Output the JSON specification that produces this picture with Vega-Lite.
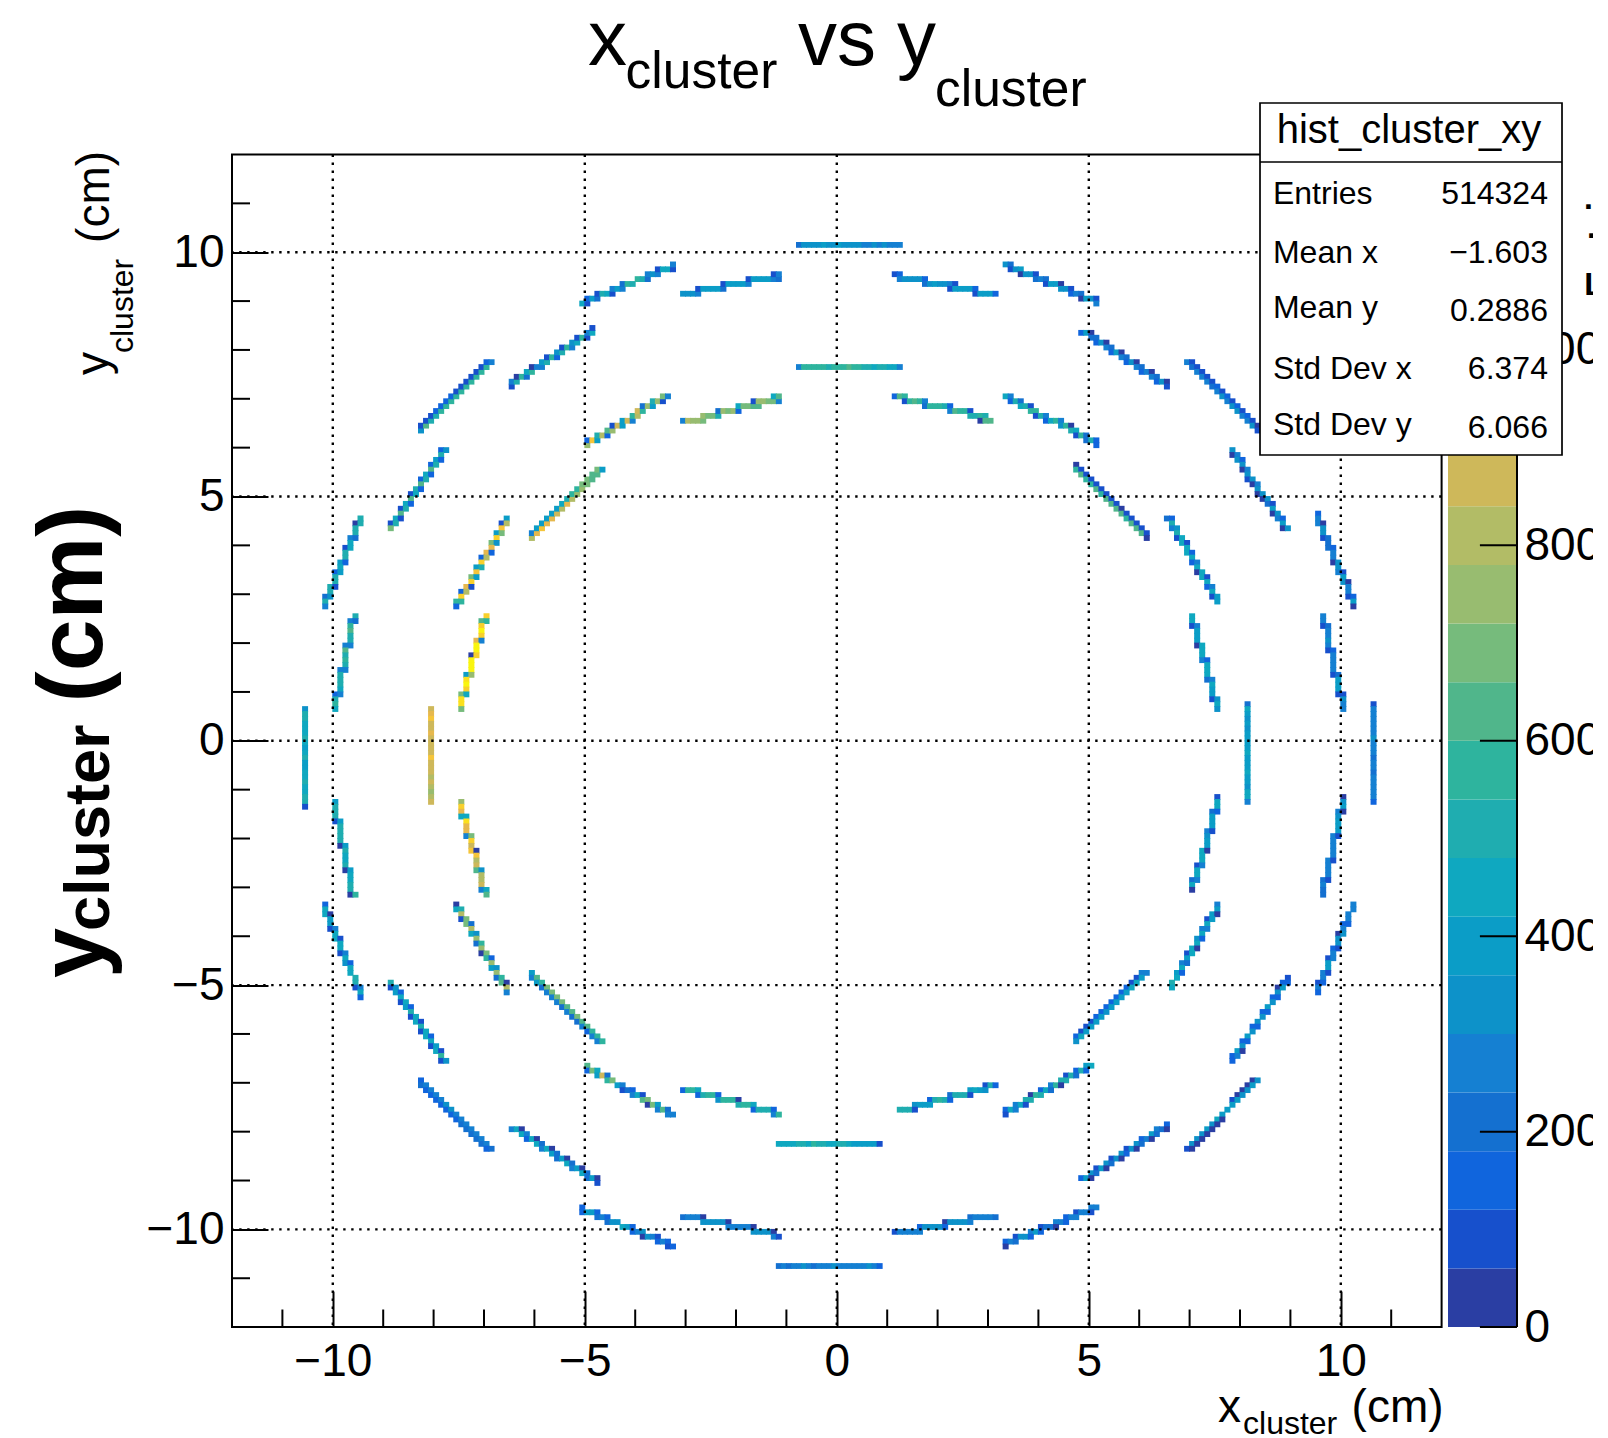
{"$schema":"https://vega.github.io/schema/vega-lite/v6.json","width":1209.6,"height":1172.6,"autosize":"none","padding":{"left":232,"top":154.5,"right":166.4,"bottom":110.9},"background":"white","view":{"stroke":"#000","strokeWidth":2},"config":{"font":"Liberation Sans"},"resolve":{"scale":{"y":"independent"},"axis":{"y":"independent"}},"layer":[
{"layer":[
{"data":{"values":[{"lo":0,"hi":60,"v":30},{"lo":60,"hi":120,"v":90},{"lo":120,"hi":180,"v":150},{"lo":180,"hi":240,"v":210},{"lo":240,"hi":300,"v":270},{"lo":300,"hi":360,"v":330},{"lo":360,"hi":420,"v":390},{"lo":420,"hi":480,"v":450},{"lo":480,"hi":540,"v":510},{"lo":540,"hi":600,"v":570},{"lo":600,"hi":660,"v":630},{"lo":660,"hi":720,"v":690},{"lo":720,"hi":780,"v":750},{"lo":780,"hi":840,"v":810},{"lo":840,"hi":900,"v":870},{"lo":900,"hi":960,"v":930},{"lo":960,"hi":1020,"v":990},{"lo":1020,"hi":1080,"v":1050},{"lo":1080,"hi":1140,"v":1110},{"lo":1140,"hi":1200,"v":1170}]},"mark":{"type":"rect"},"encoding":{"x":{"datum":12.127,"type":"quantitative","scale":{"domain":[-12,12],"nice":false,"zero":false},"axis":{"values":[-10,-5,0,5,10],"format":"d","title":null,"grid":false,"domain":false,"tickSize":-36,"tickWidth":2,"tickColor":"#000","labelFontSize":46,"labelPadding":48,"labelColor":"#000","labelFont":"Liberation Sans","labelFlush":false,"labelOverlap":false}},"x2":{"datum":13.496},"y":{"field":"lo","type":"quantitative","scale":{"domain":[0,1200],"nice":false,"zero":false},"axis":{"orient":"right","offset":75.4,"values":[0,200,400,600,800,1000],"format":"d","ticks":false,"domain":false,"grid":false,"title":null,"labelFontSize":46,"labelPadding":7,"labelColor":"#000","labelFont":"Liberation Sans","labelFlush":false,"labelBound":false,"labelOverlap":false}},"y2":{"field":"hi"},"color":{"field":"v","type":"quantitative","legend":null,"scale":{"type":"quantize","domain":[0,1200],"range":["#2a3ea3","#1750cc","#1065dd","#1470d0","#1580d2","#0d92c9","#0b9dc7","#0fa8c0","#1fadb0","#2eb49e","#50b68b","#76bb7c","#98bc70","#b2bc66","#ceb85a","#e6b84d","#f5c53a","#f8d02c","#fbe01d","#f9f50f"]}}}},
{"data":{"values":[{"t":0},{"t":200},{"t":400},{"t":600},{"t":800},{"t":1000}]},"mark":{"type":"rule","color":"#000","strokeWidth":2},"encoding":{"x":{"datum":12.76,"type":"quantitative"},"x2":{"datum":13.496},"y":{"field":"t","type":"quantitative"}}},
{"data":{"values":[{}]},"mark":{"type":"rule","color":"#000","strokeWidth":2},"encoding":{"x":{"datum":13.496,"type":"quantitative"},"y":{"datum":0},"y2":{"datum":1200}}}
]},
{"layer":[
{"data":{"values":[
{"x":-10.6,"y":0.6,"v":330},{"x":-10.6,"y":0.5,"v":510},{"x":-10.6,"y":0.4,"v":510},{"x":-10.6,"y":0.3,"v":450},{"x":-10.6,"y":0.2,"v":450},{"x":-10.6,"y":0.1,"v":450},{"x":-10.6,"y":0,"v":510},{"x":-10.6,"y":-0.1,"v":450},{"x":-10.6,"y":-0.2,"v":390},{"x":-10.6,"y":-0.3,"v":450},{"x":-10.6,"y":-0.4,"v":510},{"x":-10.6,"y":-0.5,"v":390},{"x":-10.6,"y":-0.6,"v":390},{"x":-10.6,"y":-0.7,"v":450},{"x":-10.6,"y":-0.8,"v":450},{"x":-10.6,"y":-0.9,"v":510},{"x":-10.6,"y":-1,"v":450},{"x":-10.6,"y":-1.1,"v":450},{"x":-10.6,"y":-1.2,"v":510},{"x":-10.6,"y":-1.3,"v":510},{"x":-10.6,"y":-1.4,"v":90},
{"x":-8.1,"y":0.6,"v":870},{"x":-8.1,"y":0.5,"v":930},{"x":-8.1,"y":0.4,"v":990},{"x":-8.1,"y":0.3,"v":870},{"x":-8.1,"y":0.2,"v":870},{"x":-8.1,"y":0.1,"v":930},{"x":-8.1,"y":0,"v":870},{"x":-8.1,"y":-0.1,"v":870},{"x":-8.1,"y":-0.2,"v":870},{"x":-8.1,"y":-0.3,"v":870},{"x":-8.1,"y":-0.4,"v":990},{"x":-8.1,"y":-0.5,"v":870},{"x":-8.1,"y":-0.6,"v":870},{"x":-8.1,"y":-0.7,"v":870},{"x":-8.1,"y":-0.8,"v":810},{"x":-8.1,"y":-0.9,"v":870},{"x":-8.1,"y":-1,"v":810},{"x":-8.1,"y":-1.1,"v":750},{"x":-8.1,"y":-1.2,"v":810},{"x":-8.1,"y":-1.3,"v":870},
{"x":10.6,"y":0.7,"v":90},{"x":10.6,"y":0.6,"v":270},{"x":10.6,"y":0.5,"v":270},{"x":10.6,"y":0.4,"v":270},{"x":10.6,"y":0.3,"v":270},{"x":10.6,"y":0.2,"v":270},{"x":10.6,"y":0.1,"v":270},{"x":10.6,"y":0,"v":330},{"x":10.6,"y":-0.1,"v":270},{"x":10.6,"y":-0.2,"v":270},{"x":10.6,"y":-0.3,"v":270},{"x":10.6,"y":-0.4,"v":210},{"x":10.6,"y":-0.5,"v":270},{"x":10.6,"y":-0.6,"v":270},{"x":10.6,"y":-0.7,"v":210},{"x":10.6,"y":-0.8,"v":270},{"x":10.6,"y":-0.9,"v":270},{"x":10.6,"y":-1,"v":270},{"x":10.6,"y":-1.1,"v":270},{"x":10.6,"y":-1.2,"v":270},{"x":10.6,"y":-1.3,"v":150},
{"x":8.1,"y":0.7,"v":210},{"x":8.1,"y":0.6,"v":450},{"x":8.1,"y":0.5,"v":390},{"x":8.1,"y":0.4,"v":330},{"x":8.1,"y":0.3,"v":390},{"x":8.1,"y":0.2,"v":330},{"x":8.1,"y":0.1,"v":390},{"x":8.1,"y":0,"v":390},{"x":8.1,"y":-0.1,"v":390},{"x":8.1,"y":-0.2,"v":390},{"x":8.1,"y":-0.3,"v":450},{"x":8.1,"y":-0.4,"v":390},{"x":8.1,"y":-0.5,"v":390},{"x":8.1,"y":-0.6,"v":390},{"x":8.1,"y":-0.7,"v":450},{"x":8.1,"y":-0.8,"v":390},{"x":8.1,"y":-0.9,"v":390},{"x":8.1,"y":-1,"v":330},{"x":8.1,"y":-1.1,"v":450},{"x":8.1,"y":-1.2,"v":450},{"x":8.1,"y":-1.3,"v":270},
{"x":-0.8,"y":10.1,"v":210},{"x":-0.7,"y":10.1,"v":330},{"x":-0.6,"y":10.1,"v":330},{"x":-0.5,"y":10.1,"v":330},{"x":-0.4,"y":10.1,"v":330},{"x":-0.3,"y":10.1,"v":390},{"x":-0.2,"y":10.1,"v":330},{"x":-0.1,"y":10.1,"v":330},{"x":0,"y":10.1,"v":390},{"x":0.1,"y":10.1,"v":330},{"x":0.2,"y":10.1,"v":330},{"x":0.3,"y":10.1,"v":330},{"x":0.4,"y":10.1,"v":330},{"x":0.5,"y":10.1,"v":270},{"x":0.6,"y":10.1,"v":270},{"x":0.7,"y":10.1,"v":330},{"x":0.8,"y":10.1,"v":270},{"x":0.9,"y":10.1,"v":330},{"x":1,"y":10.1,"v":270},{"x":1.1,"y":10.1,"v":270},{"x":1.2,"y":10.1,"v":270},
{"x":-0.8,"y":7.6,"v":270},{"x":-0.7,"y":7.6,"v":570},{"x":-0.6,"y":7.6,"v":570},{"x":-0.5,"y":7.6,"v":570},{"x":-0.4,"y":7.6,"v":570},{"x":-0.3,"y":7.6,"v":570},{"x":-0.2,"y":7.6,"v":510},{"x":-0.1,"y":7.6,"v":570},{"x":0,"y":7.6,"v":570},{"x":0.1,"y":7.6,"v":570},{"x":0.2,"y":7.6,"v":630},{"x":0.3,"y":7.6,"v":570},{"x":0.4,"y":7.6,"v":570},{"x":0.5,"y":7.6,"v":510},{"x":0.6,"y":7.6,"v":510},{"x":0.7,"y":7.6,"v":450},{"x":0.8,"y":7.6,"v":510},{"x":0.9,"y":7.6,"v":510},{"x":1,"y":7.6,"v":450},{"x":1.1,"y":7.6,"v":450},{"x":1.2,"y":7.6,"v":270},
{"x":-1.2,"y":-8.3,"v":450},{"x":-1.1,"y":-8.3,"v":450},{"x":-1,"y":-8.3,"v":450},{"x":-0.9,"y":-8.3,"v":450},{"x":-0.8,"y":-8.3,"v":510},{"x":-0.7,"y":-8.3,"v":510},{"x":-0.6,"y":-8.3,"v":450},{"x":-0.5,"y":-8.3,"v":570},{"x":-0.4,"y":-8.3,"v":510},{"x":-0.3,"y":-8.3,"v":510},{"x":-0.2,"y":-8.3,"v":450},{"x":-0.1,"y":-8.3,"v":450},{"x":0,"y":-8.3,"v":510},{"x":0.1,"y":-8.3,"v":510},{"x":0.2,"y":-8.3,"v":450},{"x":0.3,"y":-8.3,"v":390},{"x":0.4,"y":-8.3,"v":390},{"x":0.5,"y":-8.3,"v":390},{"x":0.6,"y":-8.3,"v":390},{"x":0.7,"y":-8.3,"v":390},{"x":0.8,"y":-8.3,"v":90},
{"x":-1.2,"y":-10.8,"v":210},{"x":-1.1,"y":-10.8,"v":270},{"x":-1,"y":-10.8,"v":210},{"x":-0.9,"y":-10.8,"v":270},{"x":-0.8,"y":-10.8,"v":270},{"x":-0.7,"y":-10.8,"v":330},{"x":-0.6,"y":-10.8,"v":270},{"x":-0.5,"y":-10.8,"v":210},{"x":-0.4,"y":-10.8,"v":270},{"x":-0.3,"y":-10.8,"v":270},{"x":-0.2,"y":-10.8,"v":270},{"x":-0.1,"y":-10.8,"v":330},{"x":0,"y":-10.8,"v":270},{"x":0.1,"y":-10.8,"v":270},{"x":0.2,"y":-10.8,"v":270},{"x":0.3,"y":-10.8,"v":270},{"x":0.4,"y":-10.8,"v":270},{"x":0.5,"y":-10.8,"v":270},{"x":0.6,"y":-10.8,"v":330},{"x":0.7,"y":-10.8,"v":270},{"x":0.8,"y":-10.8,"v":150},
{"x":1.1,"y":9.5,"v":90},{"x":1.2,"y":9.5,"v":150},{"x":1.2,"y":9.4,"v":270},{"x":1.3,"y":9.4,"v":330},{"x":1.4,"y":9.4,"v":330},{"x":1.5,"y":9.4,"v":330},{"x":1.6,"y":9.4,"v":330},{"x":1.7,"y":9.4,"v":150},{"x":1.7,"y":9.3,"v":210},{"x":1.8,"y":9.3,"v":330},{"x":1.9,"y":9.3,"v":390},{"x":2,"y":9.3,"v":330},{"x":2.1,"y":9.3,"v":330},{"x":2.2,"y":9.3,"v":270},{"x":2.3,"y":9.3,"v":90},{"x":2.2,"y":9.2,"v":90},{"x":2.3,"y":9.2,"v":390},{"x":2.4,"y":9.2,"v":390},{"x":2.5,"y":9.2,"v":390},{"x":2.6,"y":9.2,"v":390},{"x":2.7,"y":9.2,"v":150},{"x":2.7,"y":9.1,"v":90},{"x":2.8,"y":9.1,"v":390},{"x":2.9,"y":9.1,"v":390},{"x":3,"y":9.1,"v":390},{"x":3.1,"y":9.1,"v":150},
{"x":-3.1,"y":9.1,"v":330},{"x":-3,"y":9.1,"v":330},{"x":-2.9,"y":9.1,"v":330},{"x":-2.8,"y":9.1,"v":270},{"x":-2.8,"y":9.2,"v":90},{"x":-2.7,"y":9.2,"v":390},{"x":-2.6,"y":9.2,"v":390},{"x":-2.5,"y":9.2,"v":390},{"x":-2.4,"y":9.2,"v":390},{"x":-2.3,"y":9.2,"v":210},{"x":-2.3,"y":9.3,"v":90},{"x":-2.2,"y":9.3,"v":390},{"x":-2.1,"y":9.3,"v":390},{"x":-2,"y":9.3,"v":390},{"x":-1.9,"y":9.3,"v":390},{"x":-1.8,"y":9.3,"v":270},{"x":-1.8,"y":9.4,"v":90},{"x":-1.7,"y":9.4,"v":390},{"x":-1.6,"y":9.4,"v":390},{"x":-1.5,"y":9.4,"v":390},{"x":-1.4,"y":9.4,"v":390},{"x":-1.3,"y":9.4,"v":270},{"x":-1.2,"y":9.4,"v":210},{"x":-1.3,"y":9.5,"v":90},{"x":-1.2,"y":9.5,"v":270},
{"x":-3.1,"y":6.5,"v":270},{"x":-3,"y":6.5,"v":810},{"x":-2.9,"y":6.5,"v":750},{"x":-2.8,"y":6.5,"v":750},{"x":-2.7,"y":6.5,"v":690},{"x":-2.7,"y":6.6,"v":750},{"x":-2.6,"y":6.6,"v":690},{"x":-2.5,"y":6.6,"v":690},{"x":-2.4,"y":6.6,"v":510},{"x":-2.4,"y":6.7,"v":210},{"x":-2.3,"y":6.7,"v":750},{"x":-2.2,"y":6.7,"v":690},{"x":-2.1,"y":6.7,"v":750},{"x":-2,"y":6.7,"v":150},{"x":-2,"y":6.8,"v":450},{"x":-1.9,"y":6.8,"v":690},{"x":-1.8,"y":6.8,"v":690},{"x":-1.7,"y":6.8,"v":630},{"x":-1.6,"y":6.8,"v":630},{"x":-1.7,"y":6.9,"v":90},{"x":-1.6,"y":6.9,"v":750},{"x":-1.5,"y":6.9,"v":750},{"x":-1.4,"y":6.9,"v":690},{"x":-1.3,"y":6.9,"v":690},{"x":-1.2,"y":6.9,"v":270},{"x":-1.3,"y":7,"v":450},{"x":-1.2,"y":7,"v":630},
{"x":1.1,"y":7,"v":150},{"x":1.2,"y":7,"v":630},{"x":1.3,"y":7,"v":570},{"x":1.3,"y":6.9,"v":90},{"x":1.4,"y":6.9,"v":570},{"x":1.5,"y":6.9,"v":630},{"x":1.6,"y":6.9,"v":570},{"x":1.7,"y":6.9,"v":270},{"x":1.7,"y":6.8,"v":210},{"x":1.8,"y":6.8,"v":570},{"x":1.9,"y":6.8,"v":570},{"x":2,"y":6.8,"v":570},{"x":2.1,"y":6.8,"v":510},{"x":2.2,"y":6.8,"v":150},{"x":2.2,"y":6.7,"v":270},{"x":2.3,"y":6.7,"v":630},{"x":2.4,"y":6.7,"v":570},{"x":2.5,"y":6.7,"v":570},{"x":2.6,"y":6.7,"v":90},{"x":2.6,"y":6.6,"v":510},{"x":2.7,"y":6.6,"v":510},{"x":2.8,"y":6.6,"v":570},{"x":2.9,"y":6.6,"v":510},{"x":2.8,"y":6.5,"v":30},{"x":2.9,"y":6.5,"v":630},{"x":3,"y":6.5,"v":630},
{"x":-5.1,"y":8.9,"v":450},{"x":-5,"y":8.9,"v":90},{"x":-5,"y":9,"v":150},{"x":-4.9,"y":9,"v":390},{"x":-4.8,"y":9,"v":210},{"x":-4.8,"y":9.1,"v":90},{"x":-4.7,"y":9.1,"v":510},{"x":-4.6,"y":9.1,"v":450},{"x":-4.5,"y":9.1,"v":90},{"x":-4.5,"y":9.2,"v":270},{"x":-4.4,"y":9.2,"v":390},{"x":-4.3,"y":9.2,"v":270},{"x":-4.3,"y":9.3,"v":210},{"x":-4.2,"y":9.3,"v":570},{"x":-4.1,"y":9.3,"v":510},{"x":-4,"y":9.4,"v":570},{"x":-3.9,"y":9.4,"v":510},{"x":-3.8,"y":9.4,"v":210},{"x":-3.8,"y":9.5,"v":270},{"x":-3.7,"y":9.5,"v":330},{"x":-3.6,"y":9.5,"v":270},{"x":-3.6,"y":9.6,"v":90},{"x":-3.5,"y":9.6,"v":450},{"x":-3.4,"y":9.6,"v":450},{"x":-3.3,"y":9.6,"v":90},{"x":-3.3,"y":9.7,"v":270},
{"x":3.3,"y":9.7,"v":330},{"x":3.4,"y":9.7,"v":210},{"x":3.4,"y":9.6,"v":90},{"x":3.5,"y":9.6,"v":330},{"x":3.6,"y":9.6,"v":390},{"x":3.6,"y":9.5,"v":30},{"x":3.7,"y":9.5,"v":330},{"x":3.8,"y":9.5,"v":330},{"x":3.9,"y":9.5,"v":90},{"x":3.9,"y":9.4,"v":210},{"x":4,"y":9.4,"v":270},{"x":4.1,"y":9.4,"v":210},{"x":4.1,"y":9.3,"v":90},{"x":4.2,"y":9.3,"v":390},{"x":4.3,"y":9.3,"v":390},{"x":4.4,"y":9.3,"v":30},{"x":4.4,"y":9.2,"v":330},{"x":4.5,"y":9.2,"v":330},{"x":4.6,"y":9.2,"v":90},{"x":4.6,"y":9.1,"v":150},{"x":4.7,"y":9.1,"v":270},{"x":4.8,"y":9.1,"v":210},{"x":4.8,"y":9,"v":30},{"x":4.9,"y":9,"v":390},{"x":5,"y":9,"v":330},{"x":5.1,"y":9,"v":90},{"x":5.1,"y":8.9,"v":270},
{"x":4.8,"y":8.3,"v":150},{"x":4.9,"y":8.3,"v":390},{"x":5,"y":8.3,"v":30},{"x":5,"y":8.2,"v":210},{"x":5.1,"y":8.2,"v":210},{"x":5.1,"y":8.1,"v":150},{"x":5.2,"y":8.1,"v":330},{"x":5.3,"y":8.1,"v":30},{"x":5.3,"y":8,"v":270},{"x":5.4,"y":8,"v":210},{"x":5.4,"y":7.9,"v":150},{"x":5.5,"y":7.9,"v":390},{"x":5.6,"y":7.9,"v":30},{"x":5.6,"y":7.8,"v":270},{"x":5.7,"y":7.8,"v":210},{"x":5.7,"y":7.7,"v":150},{"x":5.8,"y":7.7,"v":330},{"x":5.9,"y":7.7,"v":30},{"x":5.9,"y":7.6,"v":270},{"x":6,"y":7.6,"v":210},{"x":6,"y":7.5,"v":150},{"x":6.1,"y":7.5,"v":270},{"x":6.2,"y":7.5,"v":30},{"x":6.2,"y":7.4,"v":270},{"x":6.3,"y":7.4,"v":210},{"x":6.3,"y":7.3,"v":150},{"x":6.4,"y":7.3,"v":330},{"x":6.5,"y":7.3,"v":30},{"x":6.5,"y":7.2,"v":90},
{"x":6.9,"y":7.7,"v":270},{"x":7,"y":7.7,"v":90},{"x":7,"y":7.6,"v":210},{"x":7.1,"y":7.6,"v":90},{"x":7.1,"y":7.5,"v":270},{"x":7.2,"y":7.5,"v":90},{"x":7.2,"y":7.4,"v":270},{"x":7.3,"y":7.4,"v":90},{"x":7.3,"y":7.3,"v":270},{"x":7.4,"y":7.3,"v":90},{"x":7.4,"y":7.2,"v":210},{"x":7.5,"y":7.2,"v":150},{"x":7.5,"y":7.1,"v":270},{"x":7.6,"y":7.1,"v":90},{"x":7.6,"y":7,"v":330},{"x":7.7,"y":7,"v":150},{"x":7.7,"y":6.9,"v":270},{"x":7.8,"y":6.9,"v":90},{"x":7.8,"y":6.8,"v":330},{"x":7.9,"y":6.8,"v":150},{"x":7.9,"y":6.7,"v":330},{"x":8,"y":6.7,"v":90},{"x":8,"y":6.6,"v":270},{"x":8.1,"y":6.6,"v":150},{"x":8.1,"y":6.5,"v":270},{"x":8.2,"y":6.5,"v":90},{"x":8.2,"y":6.4,"v":330},{"x":8.3,"y":6.4,"v":30},{"x":8.3,"y":6.3,"v":90},
{"x":7.8,"y":5.9,"v":330},{"x":7.8,"y":5.8,"v":30},{"x":7.9,"y":5.8,"v":270},{"x":7.9,"y":5.7,"v":330},{"x":8,"y":5.7,"v":150},{"x":8,"y":5.6,"v":330},{"x":8,"y":5.5,"v":30},{"x":8.1,"y":5.5,"v":270},{"x":8.1,"y":5.4,"v":330},{"x":8.1,"y":5.3,"v":90},{"x":8.2,"y":5.3,"v":330},{"x":8.2,"y":5.2,"v":30},{"x":8.3,"y":5.2,"v":270},{"x":8.3,"y":5.1,"v":330},{"x":8.3,"y":5,"v":30},{"x":8.4,"y":5,"v":330},{"x":8.4,"y":4.9,"v":30},{"x":8.5,"y":4.9,"v":330},{"x":8.5,"y":4.8,"v":210},{"x":8.6,"y":4.8,"v":90},{"x":8.6,"y":4.7,"v":390},{"x":8.6,"y":4.6,"v":30},{"x":8.7,"y":4.6,"v":330},{"x":8.7,"y":4.5,"v":270},{"x":8.8,"y":4.5,"v":150},{"x":8.8,"y":4.4,"v":390},{"x":8.8,"y":4.3,"v":30},{"x":8.9,"y":4.3,"v":330},
{"x":9.5,"y":4.6,"v":150},{"x":9.5,"y":4.5,"v":270},{"x":9.5,"y":4.4,"v":270},{"x":9.6,"y":4.4,"v":30},{"x":9.6,"y":4.3,"v":330},{"x":9.6,"y":4.2,"v":330},{"x":9.6,"y":4.1,"v":90},{"x":9.7,"y":4.1,"v":210},{"x":9.7,"y":4,"v":210},{"x":9.7,"y":3.9,"v":210},{"x":9.8,"y":3.9,"v":150},{"x":9.8,"y":3.8,"v":270},{"x":9.8,"y":3.7,"v":270},{"x":9.8,"y":3.6,"v":30},{"x":9.9,"y":3.6,"v":330},{"x":9.9,"y":3.5,"v":330},{"x":9.9,"y":3.4,"v":270},{"x":10,"y":3.4,"v":90},{"x":10,"y":3.3,"v":390},{"x":10,"y":3.2,"v":330},{"x":10.1,"y":3.2,"v":30},{"x":10.1,"y":3.1,"v":270},{"x":10.1,"y":3,"v":270},{"x":10.1,"y":2.9,"v":90},{"x":10.2,"y":2.9,"v":150},{"x":10.2,"y":2.8,"v":390},{"x":10.2,"y":2.7,"v":30},
{"x":9.6,"y":2.5,"v":270},{"x":9.6,"y":2.4,"v":270},{"x":9.6,"y":2.3,"v":90},{"x":9.7,"y":2.3,"v":210},{"x":9.7,"y":2.2,"v":270},{"x":9.7,"y":2.1,"v":270},{"x":9.7,"y":2,"v":330},{"x":9.7,"y":1.9,"v":270},{"x":9.7,"y":1.8,"v":90},{"x":9.8,"y":1.8,"v":150},{"x":9.8,"y":1.7,"v":270},{"x":9.8,"y":1.6,"v":270},{"x":9.8,"y":1.5,"v":270},{"x":9.8,"y":1.4,"v":270},{"x":9.8,"y":1.3,"v":90},{"x":9.9,"y":1.3,"v":210},{"x":9.9,"y":1.2,"v":390},{"x":9.9,"y":1.1,"v":390},{"x":9.9,"y":1,"v":390},{"x":9.9,"y":0.9,"v":90},{"x":10,"y":0.9,"v":90},{"x":10,"y":0.8,"v":330},{"x":10,"y":0.7,"v":270},{"x":10,"y":0.6,"v":270},
{"x":7,"y":2.5,"v":450},{"x":7,"y":2.4,"v":450},{"x":7,"y":2.3,"v":90},{"x":7.1,"y":2.3,"v":270},{"x":7.1,"y":2.2,"v":390},{"x":7.1,"y":2.1,"v":390},{"x":7.1,"y":2,"v":390},{"x":7.1,"y":1.9,"v":30},{"x":7.2,"y":1.9,"v":450},{"x":7.2,"y":1.8,"v":450},{"x":7.2,"y":1.7,"v":450},{"x":7.2,"y":1.6,"v":270},{"x":7.3,"y":1.6,"v":150},{"x":7.3,"y":1.5,"v":450},{"x":7.3,"y":1.4,"v":450},{"x":7.3,"y":1.3,"v":450},{"x":7.3,"y":1.2,"v":210},{"x":7.4,"y":1.2,"v":270},{"x":7.4,"y":1.1,"v":450},{"x":7.4,"y":1,"v":390},{"x":7.4,"y":0.9,"v":390},{"x":7.4,"y":0.8,"v":90},{"x":7.5,"y":0.8,"v":330},{"x":7.5,"y":0.7,"v":450},{"x":7.5,"y":0.6,"v":330},
{"x":6.5,"y":4.5,"v":210},{"x":6.6,"y":4.5,"v":150},{"x":6.6,"y":4.4,"v":510},{"x":6.6,"y":4.3,"v":270},{"x":6.7,"y":4.3,"v":330},{"x":6.7,"y":4.2,"v":510},{"x":6.7,"y":4.1,"v":90},{"x":6.8,"y":4.1,"v":450},{"x":6.8,"y":4,"v":450},{"x":6.9,"y":4,"v":90},{"x":6.9,"y":3.9,"v":450},{"x":6.9,"y":3.8,"v":450},{"x":7,"y":3.8,"v":150},{"x":7,"y":3.7,"v":450},{"x":7,"y":3.6,"v":150},{"x":7.1,"y":3.6,"v":270},{"x":7.1,"y":3.5,"v":450},{"x":7.1,"y":3.4,"v":30},{"x":7.2,"y":3.4,"v":450},{"x":7.2,"y":3.3,"v":450},{"x":7.3,"y":3.3,"v":90},{"x":7.3,"y":3.2,"v":450},{"x":7.3,"y":3.1,"v":150},{"x":7.4,"y":3.1,"v":270},{"x":7.4,"y":3,"v":450},{"x":7.4,"y":2.9,"v":90},{"x":7.5,"y":2.9,"v":390},{"x":7.5,"y":2.8,"v":390},
{"x":4.7,"y":5.6,"v":30},{"x":4.7,"y":5.5,"v":570},{"x":4.8,"y":5.5,"v":90},{"x":4.8,"y":5.4,"v":630},{"x":4.9,"y":5.4,"v":90},{"x":4.9,"y":5.3,"v":570},{"x":5,"y":5.3,"v":90},{"x":5,"y":5.2,"v":570},{"x":5.1,"y":5.2,"v":90},{"x":5.1,"y":5.1,"v":630},{"x":5.2,"y":5.1,"v":90},{"x":5.2,"y":5,"v":570},{"x":5.3,"y":5,"v":90},{"x":5.3,"y":4.9,"v":630},{"x":5.4,"y":4.9,"v":90},{"x":5.4,"y":4.8,"v":630},{"x":5.5,"y":4.8,"v":90},{"x":5.5,"y":4.7,"v":630},{"x":5.6,"y":4.7,"v":30},{"x":5.6,"y":4.6,"v":630},{"x":5.7,"y":4.6,"v":90},{"x":5.7,"y":4.5,"v":570},{"x":5.8,"y":4.5,"v":90},{"x":5.8,"y":4.4,"v":630},{"x":5.9,"y":4.4,"v":90},{"x":5.9,"y":4.3,"v":630},{"x":6,"y":4.3,"v":90},{"x":6,"y":4.2,"v":630},{"x":6.1,"y":4.2,"v":90},{"x":6.1,"y":4.1,"v":30},
{"x":3.3,"y":7,"v":450},{"x":3.4,"y":7,"v":270},{"x":3.4,"y":6.9,"v":150},{"x":3.5,"y":6.9,"v":510},{"x":3.6,"y":6.9,"v":210},{"x":3.6,"y":6.8,"v":450},{"x":3.7,"y":6.8,"v":510},{"x":3.8,"y":6.8,"v":90},{"x":3.8,"y":6.7,"v":570},{"x":3.9,"y":6.7,"v":570},{"x":3.9,"y":6.6,"v":90},{"x":4,"y":6.6,"v":510},{"x":4.1,"y":6.6,"v":270},{"x":4.1,"y":6.5,"v":150},{"x":4.2,"y":6.5,"v":450},{"x":4.3,"y":6.5,"v":570},{"x":4.4,"y":6.5,"v":270},{"x":4.4,"y":6.4,"v":330},{"x":4.5,"y":6.4,"v":570},{"x":4.6,"y":6.4,"v":30},{"x":4.6,"y":6.3,"v":510},{"x":4.7,"y":6.3,"v":450},{"x":4.7,"y":6.2,"v":90},{"x":4.8,"y":6.2,"v":570},{"x":4.9,"y":6.2,"v":210},{"x":4.9,"y":6.1,"v":210},{"x":5,"y":6.1,"v":510},{"x":5.1,"y":6.1,"v":150},{"x":5.1,"y":6,"v":150},
{"x":10,"y":-1.2,"v":30},{"x":10,"y":-1.3,"v":330},{"x":10,"y":-1.4,"v":390},{"x":9.9,"y":-1.5,"v":270},{"x":10,"y":-1.5,"v":30},{"x":9.9,"y":-1.6,"v":330},{"x":9.9,"y":-1.7,"v":390},{"x":9.9,"y":-1.8,"v":390},{"x":9.9,"y":-1.9,"v":390},{"x":9.8,"y":-2,"v":270},{"x":9.9,"y":-2,"v":90},{"x":9.8,"y":-2.1,"v":270},{"x":9.8,"y":-2.2,"v":270},{"x":9.8,"y":-2.3,"v":270},{"x":9.8,"y":-2.4,"v":270},{"x":9.7,"y":-2.5,"v":270},{"x":9.8,"y":-2.5,"v":90},{"x":9.7,"y":-2.6,"v":270},{"x":9.7,"y":-2.7,"v":270},{"x":9.7,"y":-2.8,"v":270},{"x":9.6,"y":-2.9,"v":210},{"x":9.7,"y":-2.9,"v":90},{"x":9.6,"y":-3,"v":270},{"x":9.6,"y":-3.1,"v":210},{"x":9.6,"y":-3.2,"v":210},
{"x":7.5,"y":-1.2,"v":90},{"x":7.5,"y":-1.3,"v":450},{"x":7.5,"y":-1.4,"v":450},{"x":7.4,"y":-1.5,"v":210},{"x":7.5,"y":-1.5,"v":150},{"x":7.4,"y":-1.6,"v":390},{"x":7.4,"y":-1.7,"v":390},{"x":7.4,"y":-1.8,"v":390},{"x":7.3,"y":-1.9,"v":270},{"x":7.4,"y":-1.9,"v":90},{"x":7.3,"y":-2,"v":330},{"x":7.3,"y":-2.1,"v":390},{"x":7.3,"y":-2.2,"v":390},{"x":7.2,"y":-2.3,"v":450},{"x":7.3,"y":-2.3,"v":30},{"x":7.2,"y":-2.4,"v":450},{"x":7.2,"y":-2.5,"v":450},{"x":7.1,"y":-2.6,"v":90},{"x":7.2,"y":-2.6,"v":270},{"x":7.1,"y":-2.7,"v":450},{"x":7.1,"y":-2.8,"v":450},{"x":7,"y":-2.9,"v":210},{"x":7.1,"y":-2.9,"v":270},{"x":7,"y":-3,"v":450},{"x":7,"y":-3.1,"v":30},
{"x":10.2,"y":-3.4,"v":270},{"x":10.2,"y":-3.5,"v":270},{"x":10.1,"y":-3.6,"v":270},{"x":10.1,"y":-3.7,"v":270},{"x":10,"y":-3.8,"v":150},{"x":10.1,"y":-3.8,"v":150},{"x":10,"y":-3.9,"v":270},{"x":9.9,"y":-4,"v":30},{"x":10,"y":-4,"v":330},{"x":9.9,"y":-4.1,"v":330},{"x":9.9,"y":-4.2,"v":330},{"x":9.8,"y":-4.3,"v":150},{"x":9.9,"y":-4.3,"v":90},{"x":9.8,"y":-4.4,"v":270},{"x":9.7,"y":-4.5,"v":90},{"x":9.8,"y":-4.5,"v":270},{"x":9.7,"y":-4.6,"v":390},{"x":9.7,"y":-4.7,"v":390},{"x":9.6,"y":-4.8,"v":270},{"x":9.7,"y":-4.8,"v":90},{"x":9.6,"y":-4.9,"v":270},{"x":9.5,"y":-5,"v":90},{"x":9.6,"y":-5,"v":150},{"x":9.5,"y":-5.1,"v":270},{"x":9.5,"y":-5.2,"v":150},
{"x":7.5,"y":-3.4,"v":270},{"x":7.5,"y":-3.5,"v":390},{"x":7.4,"y":-3.6,"v":390},{"x":7.5,"y":-3.6,"v":30},{"x":7.3,"y":-3.7,"v":90},{"x":7.4,"y":-3.7,"v":390},{"x":7.3,"y":-3.8,"v":450},{"x":7.2,"y":-3.9,"v":270},{"x":7.3,"y":-3.9,"v":270},{"x":7.2,"y":-4,"v":450},{"x":7.1,"y":-4.1,"v":330},{"x":7.2,"y":-4.1,"v":150},{"x":7.1,"y":-4.2,"v":450},{"x":7,"y":-4.3,"v":450},{"x":7.1,"y":-4.3,"v":30},{"x":6.9,"y":-4.4,"v":90},{"x":7,"y":-4.4,"v":450},{"x":6.9,"y":-4.5,"v":390},{"x":6.8,"y":-4.6,"v":270},{"x":6.9,"y":-4.6,"v":210},{"x":6.8,"y":-4.7,"v":450},{"x":6.7,"y":-4.8,"v":390},{"x":6.8,"y":-4.8,"v":150},{"x":6.7,"y":-4.9,"v":450},{"x":6.6,"y":-5,"v":510},{"x":6.6,"y":-5.1,"v":450},
{"x":8.9,"y":-4.9,"v":90},{"x":8.8,"y":-5,"v":150},{"x":8.9,"y":-5,"v":150},{"x":8.7,"y":-5.1,"v":30},{"x":8.8,"y":-5.1,"v":390},{"x":8.7,"y":-5.2,"v":330},{"x":8.6,"y":-5.3,"v":150},{"x":8.7,"y":-5.3,"v":150},{"x":8.6,"y":-5.4,"v":330},{"x":8.5,"y":-5.5,"v":390},{"x":8.4,"y":-5.6,"v":150},{"x":8.5,"y":-5.6,"v":150},{"x":8.4,"y":-5.7,"v":330},{"x":8.3,"y":-5.8,"v":330},{"x":8.2,"y":-5.9,"v":150},{"x":8.3,"y":-5.9,"v":150},{"x":8.2,"y":-6,"v":330},{"x":8.1,"y":-6.1,"v":390},{"x":8,"y":-6.2,"v":150},{"x":8.1,"y":-6.2,"v":150},{"x":8,"y":-6.3,"v":330},{"x":7.9,"y":-6.4,"v":390},{"x":8,"y":-6.4,"v":30},{"x":7.8,"y":-6.5,"v":150},{"x":7.9,"y":-6.5,"v":270},{"x":7.8,"y":-6.6,"v":150},
{"x":8.2,"y":-7,"v":30},{"x":8.3,"y":-7,"v":330},{"x":8.1,"y":-7.1,"v":30},{"x":8.2,"y":-7.1,"v":390},{"x":8,"y":-7.2,"v":30},{"x":8.1,"y":-7.2,"v":330},{"x":7.9,"y":-7.3,"v":30},{"x":8,"y":-7.3,"v":330},{"x":7.8,"y":-7.4,"v":90},{"x":7.9,"y":-7.4,"v":390},{"x":7.8,"y":-7.5,"v":390},{"x":7.7,"y":-7.6,"v":390},{"x":7.6,"y":-7.7,"v":390},{"x":7.5,"y":-7.8,"v":450},{"x":7.6,"y":-7.8,"v":30},{"x":7.4,"y":-7.9,"v":330},{"x":7.5,"y":-7.9,"v":30},{"x":7.3,"y":-8,"v":390},{"x":7.4,"y":-8,"v":30},{"x":7.2,"y":-8.1,"v":330},{"x":7.3,"y":-8.1,"v":30},{"x":7.1,"y":-8.2,"v":330},{"x":7.2,"y":-8.2,"v":30},{"x":7,"y":-8.3,"v":330},{"x":7.1,"y":-8.3,"v":30},{"x":6.9,"y":-8.4,"v":90},{"x":7,"y":-8.4,"v":30},
{"x":6.5,"y":-7.9,"v":150},{"x":6.3,"y":-8,"v":270},{"x":6.4,"y":-8,"v":210},{"x":6.5,"y":-8,"v":30},{"x":6.2,"y":-8.1,"v":390},{"x":6.3,"y":-8.1,"v":210},{"x":6,"y":-8.2,"v":150},{"x":6.1,"y":-8.2,"v":270},{"x":6.2,"y":-8.2,"v":30},{"x":5.9,"y":-8.3,"v":330},{"x":6,"y":-8.3,"v":210},{"x":5.7,"y":-8.4,"v":90},{"x":5.8,"y":-8.4,"v":330},{"x":5.9,"y":-8.4,"v":30},{"x":5.6,"y":-8.5,"v":330},{"x":5.7,"y":-8.5,"v":150},{"x":5.4,"y":-8.6,"v":90},{"x":5.5,"y":-8.6,"v":330},{"x":5.6,"y":-8.6,"v":30},{"x":5.3,"y":-8.7,"v":330},{"x":5.4,"y":-8.7,"v":210},{"x":5.1,"y":-8.8,"v":90},{"x":5.2,"y":-8.8,"v":390},{"x":5.3,"y":-8.8,"v":30},{"x":5,"y":-8.9,"v":330},{"x":5.1,"y":-8.9,"v":210},{"x":4.8,"y":-9,"v":150},{"x":4.9,"y":-9,"v":390},{"x":5,"y":-9,"v":30},
{"x":6,"y":-4.8,"v":270},{"x":6.1,"y":-4.8,"v":270},{"x":5.9,"y":-4.9,"v":90},{"x":6,"y":-4.9,"v":390},{"x":5.8,"y":-5,"v":90},{"x":5.9,"y":-5,"v":450},{"x":5.7,"y":-5.1,"v":150},{"x":5.8,"y":-5.1,"v":450},{"x":5.6,"y":-5.2,"v":150},{"x":5.7,"y":-5.2,"v":390},{"x":5.5,"y":-5.3,"v":150},{"x":5.6,"y":-5.3,"v":390},{"x":5.4,"y":-5.4,"v":150},{"x":5.5,"y":-5.4,"v":390},{"x":5.3,"y":-5.5,"v":150},{"x":5.4,"y":-5.5,"v":390},{"x":5.2,"y":-5.6,"v":150},{"x":5.3,"y":-5.6,"v":330},{"x":5.1,"y":-5.7,"v":150},{"x":5.2,"y":-5.7,"v":390},{"x":5,"y":-5.8,"v":90},{"x":5.1,"y":-5.8,"v":390},{"x":4.9,"y":-5.9,"v":90},{"x":5,"y":-5.9,"v":390},{"x":4.8,"y":-6,"v":90},{"x":4.9,"y":-6,"v":390},{"x":4.7,"y":-6.1,"v":150},{"x":4.8,"y":-6.1,"v":450},{"x":4.7,"y":-6.2,"v":330},
{"x":4.9,"y":-6.7,"v":390},{"x":5,"y":-6.7,"v":450},{"x":4.7,"y":-6.8,"v":150},{"x":4.8,"y":-6.8,"v":510},{"x":4.9,"y":-6.8,"v":150},{"x":4.5,"y":-6.9,"v":90},{"x":4.6,"y":-6.9,"v":510},{"x":4.7,"y":-6.9,"v":210},{"x":4.4,"y":-7,"v":510},{"x":4.5,"y":-7,"v":510},{"x":4.2,"y":-7.1,"v":270},{"x":4.3,"y":-7.1,"v":570},{"x":4.4,"y":-7.1,"v":30},{"x":4,"y":-7.2,"v":150},{"x":4.1,"y":-7.2,"v":450},{"x":4.2,"y":-7.2,"v":210},{"x":3.8,"y":-7.3,"v":30},{"x":3.9,"y":-7.3,"v":570},{"x":4,"y":-7.3,"v":510},{"x":3.7,"y":-7.4,"v":510},{"x":3.8,"y":-7.4,"v":510},{"x":3.5,"y":-7.5,"v":270},{"x":3.6,"y":-7.5,"v":450},{"x":3.7,"y":-7.5,"v":90},{"x":3.3,"y":-7.6,"v":150},{"x":3.4,"y":-7.6,"v":450},{"x":3.5,"y":-7.6,"v":270},{"x":3.3,"y":-7.7,"v":90},
{"x":2.9,"y":-7.1,"v":90},{"x":3,"y":-7.1,"v":510},{"x":3.1,"y":-7.1,"v":150},{"x":2.6,"y":-7.2,"v":390},{"x":2.7,"y":-7.2,"v":450},{"x":2.8,"y":-7.2,"v":390},{"x":2.9,"y":-7.2,"v":330},{"x":2.2,"y":-7.3,"v":210},{"x":2.3,"y":-7.3,"v":510},{"x":2.4,"y":-7.3,"v":510},{"x":2.5,"y":-7.3,"v":510},{"x":2.6,"y":-7.3,"v":90},{"x":1.8,"y":-7.4,"v":150},{"x":1.9,"y":-7.4,"v":510},{"x":2,"y":-7.4,"v":570},{"x":2.1,"y":-7.4,"v":510},{"x":2.2,"y":-7.4,"v":150},{"x":1.5,"y":-7.5,"v":330},{"x":1.6,"y":-7.5,"v":390},{"x":1.7,"y":-7.5,"v":390},{"x":1.8,"y":-7.5,"v":390},{"x":1.2,"y":-7.6,"v":510},{"x":1.3,"y":-7.6,"v":510},{"x":1.4,"y":-7.6,"v":510},{"x":1.5,"y":-7.6,"v":90},
{"x":-3.1,"y":-7.2,"v":150},{"x":-3,"y":-7.2,"v":570},{"x":-2.9,"y":-7.2,"v":570},{"x":-2.8,"y":-7.2,"v":450},{"x":-2.8,"y":-7.3,"v":150},{"x":-2.7,"y":-7.3,"v":510},{"x":-2.6,"y":-7.3,"v":570},{"x":-2.5,"y":-7.3,"v":570},{"x":-2.4,"y":-7.3,"v":150},{"x":-2.4,"y":-7.4,"v":330},{"x":-2.3,"y":-7.4,"v":570},{"x":-2.2,"y":-7.4,"v":570},{"x":-2.1,"y":-7.4,"v":570},{"x":-2,"y":-7.4,"v":30},{"x":-2,"y":-7.5,"v":510},{"x":-1.9,"y":-7.5,"v":570},{"x":-1.8,"y":-7.5,"v":570},{"x":-1.7,"y":-7.5,"v":450},{"x":-1.7,"y":-7.6,"v":150},{"x":-1.6,"y":-7.6,"v":510},{"x":-1.5,"y":-7.6,"v":510},{"x":-1.4,"y":-7.6,"v":510},{"x":-1.3,"y":-7.6,"v":150},{"x":-1.3,"y":-7.7,"v":270},{"x":-1.2,"y":-7.7,"v":570},
{"x":-5,"y":-6.7,"v":630},{"x":-5,"y":-6.8,"v":150},{"x":-4.9,"y":-6.8,"v":690},{"x":-4.8,"y":-6.8,"v":450},{"x":-4.8,"y":-6.9,"v":390},{"x":-4.7,"y":-6.9,"v":870},{"x":-4.6,"y":-6.9,"v":210},{"x":-4.6,"y":-7,"v":570},{"x":-4.5,"y":-7,"v":690},{"x":-4.4,"y":-7.1,"v":390},{"x":-4.3,"y":-7.1,"v":270},{"x":-4.3,"y":-7.2,"v":90},{"x":-4.2,"y":-7.2,"v":210},{"x":-4.1,"y":-7.2,"v":150},{"x":-4.1,"y":-7.3,"v":270},{"x":-4,"y":-7.3,"v":450},{"x":-3.9,"y":-7.3,"v":90},{"x":-3.9,"y":-7.4,"v":630},{"x":-3.8,"y":-7.4,"v":690},{"x":-3.8,"y":-7.5,"v":30},{"x":-3.7,"y":-7.5,"v":690},{"x":-3.6,"y":-7.5,"v":390},{"x":-3.6,"y":-7.6,"v":270},{"x":-3.5,"y":-7.6,"v":630},{"x":-3.4,"y":-7.6,"v":210},{"x":-3.4,"y":-7.7,"v":270},{"x":-3.3,"y":-7.7,"v":270},
{"x":-6.5,"y":-8,"v":270},{"x":-6.4,"y":-8,"v":450},{"x":-6.3,"y":-8,"v":30},{"x":-6.3,"y":-8.1,"v":450},{"x":-6.2,"y":-8.1,"v":270},{"x":-6.2,"y":-8.2,"v":150},{"x":-6.1,"y":-8.2,"v":450},{"x":-6,"y":-8.2,"v":30},{"x":-6,"y":-8.3,"v":450},{"x":-5.9,"y":-8.3,"v":210},{"x":-5.9,"y":-8.4,"v":270},{"x":-5.8,"y":-8.4,"v":450},{"x":-5.7,"y":-8.4,"v":30},{"x":-5.7,"y":-8.5,"v":390},{"x":-5.6,"y":-8.5,"v":210},{"x":-5.6,"y":-8.6,"v":210},{"x":-5.5,"y":-8.6,"v":390},{"x":-5.4,"y":-8.6,"v":30},{"x":-5.4,"y":-8.7,"v":450},{"x":-5.3,"y":-8.7,"v":210},{"x":-5.3,"y":-8.8,"v":270},{"x":-5.2,"y":-8.8,"v":390},{"x":-5.1,"y":-8.8,"v":30},{"x":-5.1,"y":-8.9,"v":450},{"x":-5,"y":-8.9,"v":210},{"x":-5,"y":-9,"v":210},{"x":-4.9,"y":-9,"v":390},{"x":-4.8,"y":-9,"v":30},{"x":-4.8,"y":-9.1,"v":90},
{"x":-8.3,"y":-7,"v":150},{"x":-8.3,"y":-7.1,"v":210},{"x":-8.2,"y":-7.1,"v":270},{"x":-8.2,"y":-7.2,"v":150},{"x":-8.1,"y":-7.2,"v":270},{"x":-8.1,"y":-7.3,"v":150},{"x":-8,"y":-7.3,"v":270},{"x":-8,"y":-7.4,"v":150},{"x":-7.9,"y":-7.4,"v":270},{"x":-7.9,"y":-7.5,"v":150},{"x":-7.8,"y":-7.5,"v":330},{"x":-7.8,"y":-7.6,"v":150},{"x":-7.7,"y":-7.6,"v":330},{"x":-7.7,"y":-7.7,"v":150},{"x":-7.6,"y":-7.7,"v":270},{"x":-7.6,"y":-7.8,"v":150},{"x":-7.5,"y":-7.8,"v":270},{"x":-7.5,"y":-7.9,"v":210},{"x":-7.4,"y":-7.9,"v":270},{"x":-7.4,"y":-8,"v":210},{"x":-7.3,"y":-8,"v":270},{"x":-7.3,"y":-8.1,"v":210},{"x":-7.2,"y":-8.1,"v":270},{"x":-7.2,"y":-8.2,"v":210},{"x":-7.1,"y":-8.2,"v":270},{"x":-7.1,"y":-8.3,"v":210},{"x":-7,"y":-8.3,"v":270},{"x":-7,"y":-8.4,"v":150},{"x":-6.9,"y":-8.4,"v":210},
{"x":-8.9,"y":-5,"v":510},{"x":-8.9,"y":-5.1,"v":90},{"x":-8.8,"y":-5.1,"v":330},{"x":-8.8,"y":-5.2,"v":390},{"x":-8.7,"y":-5.2,"v":150},{"x":-8.7,"y":-5.3,"v":450},{"x":-8.7,"y":-5.4,"v":90},{"x":-8.6,"y":-5.4,"v":450},{"x":-8.6,"y":-5.5,"v":390},{"x":-8.5,"y":-5.5,"v":150},{"x":-8.5,"y":-5.6,"v":510},{"x":-8.5,"y":-5.7,"v":90},{"x":-8.4,"y":-5.7,"v":450},{"x":-8.4,"y":-5.8,"v":450},{"x":-8.3,"y":-5.8,"v":90},{"x":-8.3,"y":-5.9,"v":510},{"x":-8.3,"y":-6,"v":90},{"x":-8.2,"y":-6,"v":450},{"x":-8.2,"y":-6.1,"v":450},{"x":-8.1,"y":-6.1,"v":150},{"x":-8.1,"y":-6.2,"v":450},{"x":-8.1,"y":-6.3,"v":90},{"x":-8,"y":-6.3,"v":390},{"x":-8,"y":-6.4,"v":450},{"x":-7.9,"y":-6.4,"v":90},{"x":-7.9,"y":-6.5,"v":570},{"x":-7.9,"y":-6.6,"v":90},{"x":-7.8,"y":-6.6,"v":330},
{"x":-10.2,"y":-3.4,"v":150},{"x":-10.2,"y":-3.5,"v":450},{"x":-10.2,"y":-3.6,"v":450},{"x":-10.1,"y":-3.6,"v":30},{"x":-10.1,"y":-3.7,"v":390},{"x":-10.1,"y":-3.8,"v":390},{"x":-10.1,"y":-3.9,"v":90},{"x":-10,"y":-3.9,"v":270},{"x":-10,"y":-4,"v":450},{"x":-10,"y":-4.1,"v":450},{"x":-9.9,"y":-4.1,"v":90},{"x":-9.9,"y":-4.2,"v":450},{"x":-9.9,"y":-4.3,"v":450},{"x":-9.9,"y":-4.4,"v":90},{"x":-9.8,"y":-4.4,"v":270},{"x":-9.8,"y":-4.5,"v":450},{"x":-9.8,"y":-4.6,"v":330},{"x":-9.7,"y":-4.6,"v":150},{"x":-9.7,"y":-4.7,"v":450},{"x":-9.7,"y":-4.8,"v":450},{"x":-9.6,"y":-4.9,"v":510},{"x":-9.6,"y":-5,"v":510},{"x":-9.6,"y":-5.1,"v":90},{"x":-9.5,"y":-5.1,"v":270},{"x":-9.5,"y":-5.2,"v":450},{"x":-9.5,"y":-5.3,"v":150},
{"x":-10,"y":-1.3,"v":390},{"x":-10,"y":-1.4,"v":510},{"x":-10,"y":-1.5,"v":510},{"x":-10,"y":-1.6,"v":510},{"x":-10,"y":-1.7,"v":90},{"x":-9.9,"y":-1.7,"v":390},{"x":-9.9,"y":-1.8,"v":510},{"x":-9.9,"y":-1.9,"v":510},{"x":-9.9,"y":-2,"v":510},{"x":-9.9,"y":-2.1,"v":510},{"x":-9.9,"y":-2.2,"v":30},{"x":-9.8,"y":-2.2,"v":390},{"x":-9.8,"y":-2.3,"v":510},{"x":-9.8,"y":-2.4,"v":450},{"x":-9.8,"y":-2.5,"v":450},{"x":-9.8,"y":-2.6,"v":510},{"x":-9.8,"y":-2.7,"v":30},{"x":-9.7,"y":-2.7,"v":390},{"x":-9.7,"y":-2.8,"v":450},{"x":-9.7,"y":-2.9,"v":450},{"x":-9.7,"y":-3,"v":510},{"x":-9.7,"y":-3.1,"v":510},{"x":-9.7,"y":-3.2,"v":30},{"x":-9.6,"y":-3.2,"v":570},
{"x":-7.5,"y":-1.3,"v":750},{"x":-7.5,"y":-1.4,"v":1050},{"x":-7.5,"y":-1.5,"v":930},{"x":-7.5,"y":-1.6,"v":450},{"x":-7.4,"y":-1.6,"v":450},{"x":-7.4,"y":-1.7,"v":1110},{"x":-7.4,"y":-1.8,"v":930},{"x":-7.4,"y":-1.9,"v":930},{"x":-7.4,"y":-2,"v":270},{"x":-7.3,"y":-2,"v":690},{"x":-7.3,"y":-2.1,"v":1050},{"x":-7.3,"y":-2.2,"v":870},{"x":-7.3,"y":-2.3,"v":990},{"x":-7.2,"y":-2.3,"v":30},{"x":-7.2,"y":-2.4,"v":990},{"x":-7.2,"y":-2.5,"v":810},{"x":-7.2,"y":-2.6,"v":870},{"x":-7.2,"y":-2.7,"v":630},{"x":-7.1,"y":-2.7,"v":330},{"x":-7.1,"y":-2.8,"v":810},{"x":-7.1,"y":-2.9,"v":810},{"x":-7.1,"y":-3,"v":870},{"x":-7.1,"y":-3.1,"v":270},{"x":-7,"y":-3.1,"v":450},{"x":-7,"y":-3.2,"v":630},
{"x":-7.6,"y":-3.4,"v":30},{"x":-7.6,"y":-3.5,"v":450},{"x":-7.5,"y":-3.5,"v":510},{"x":-7.5,"y":-3.6,"v":810},{"x":-7.5,"y":-3.7,"v":90},{"x":-7.4,"y":-3.7,"v":690},{"x":-7.4,"y":-3.8,"v":690},{"x":-7.3,"y":-3.8,"v":210},{"x":-7.3,"y":-3.9,"v":810},{"x":-7.3,"y":-4,"v":450},{"x":-7.2,"y":-4,"v":330},{"x":-7.2,"y":-4.1,"v":750},{"x":-7.2,"y":-4.2,"v":210},{"x":-7.1,"y":-4.2,"v":570},{"x":-7.1,"y":-4.3,"v":750},{"x":-7.1,"y":-4.4,"v":30},{"x":-7,"y":-4.4,"v":690},{"x":-7,"y":-4.5,"v":570},{"x":-6.9,"y":-4.5,"v":150},{"x":-6.9,"y":-4.6,"v":750},{"x":-6.9,"y":-4.7,"v":390},{"x":-6.8,"y":-4.7,"v":330},{"x":-6.8,"y":-4.8,"v":750},{"x":-6.8,"y":-4.9,"v":210},{"x":-6.7,"y":-4.9,"v":570},{"x":-6.7,"y":-5,"v":630},{"x":-6.6,"y":-5,"v":30},{"x":-6.6,"y":-5.1,"v":810},{"x":-6.6,"y":-5.2,"v":270},
{"x":-6.1,"y":-4.8,"v":390},{"x":-6.1,"y":-4.9,"v":270},{"x":-6,"y":-4.9,"v":630},{"x":-6,"y":-5,"v":390},{"x":-5.9,"y":-5,"v":570},{"x":-5.9,"y":-5.1,"v":210},{"x":-5.8,"y":-5.1,"v":690},{"x":-5.8,"y":-5.2,"v":270},{"x":-5.7,"y":-5.2,"v":690},{"x":-5.7,"y":-5.3,"v":270},{"x":-5.6,"y":-5.3,"v":690},{"x":-5.6,"y":-5.4,"v":270},{"x":-5.5,"y":-5.4,"v":690},{"x":-5.5,"y":-5.5,"v":210},{"x":-5.4,"y":-5.5,"v":630},{"x":-5.4,"y":-5.6,"v":270},{"x":-5.3,"y":-5.6,"v":630},{"x":-5.3,"y":-5.7,"v":210},{"x":-5.2,"y":-5.7,"v":690},{"x":-5.2,"y":-5.8,"v":210},{"x":-5.1,"y":-5.8,"v":630},{"x":-5.1,"y":-5.9,"v":270},{"x":-5,"y":-5.9,"v":630},{"x":-5,"y":-6,"v":150},{"x":-4.9,"y":-6,"v":570},{"x":-4.9,"y":-6.1,"v":270},{"x":-4.8,"y":-6.1,"v":570},{"x":-4.8,"y":-6.2,"v":270},{"x":-4.7,"y":-6.2,"v":570},
{"x":-5.1,"y":-9.6,"v":150},{"x":-5.1,"y":-9.7,"v":150},{"x":-5,"y":-9.7,"v":390},{"x":-4.9,"y":-9.7,"v":390},{"x":-4.8,"y":-9.7,"v":150},{"x":-4.8,"y":-9.8,"v":210},{"x":-4.7,"y":-9.8,"v":270},{"x":-4.6,"y":-9.8,"v":150},{"x":-4.6,"y":-9.9,"v":210},{"x":-4.5,"y":-9.9,"v":330},{"x":-4.4,"y":-9.9,"v":330},{"x":-4.3,"y":-10,"v":450},{"x":-4.2,"y":-10,"v":390},{"x":-4.1,"y":-10,"v":150},{"x":-4.1,"y":-10.1,"v":150},{"x":-4,"y":-10.1,"v":270},{"x":-3.9,"y":-10.1,"v":330},{"x":-3.9,"y":-10.2,"v":30},{"x":-3.8,"y":-10.2,"v":330},{"x":-3.7,"y":-10.2,"v":270},{"x":-3.6,"y":-10.2,"v":90},{"x":-3.6,"y":-10.3,"v":150},{"x":-3.5,"y":-10.3,"v":270},{"x":-3.4,"y":-10.3,"v":150},{"x":-3.4,"y":-10.4,"v":90},{"x":-3.3,"y":-10.4,"v":150},
{"x":-3.1,"y":-9.8,"v":210},{"x":-3,"y":-9.8,"v":270},{"x":-2.9,"y":-9.8,"v":270},{"x":-2.8,"y":-9.8,"v":270},{"x":-2.7,"y":-9.8,"v":30},{"x":-2.7,"y":-9.9,"v":330},{"x":-2.6,"y":-9.9,"v":330},{"x":-2.5,"y":-9.9,"v":330},{"x":-2.4,"y":-9.9,"v":330},{"x":-2.3,"y":-9.9,"v":330},{"x":-2.2,"y":-9.9,"v":30},{"x":-2.2,"y":-10,"v":270},{"x":-2.1,"y":-10,"v":270},{"x":-2,"y":-10,"v":270},{"x":-1.9,"y":-10,"v":270},{"x":-1.8,"y":-10,"v":270},{"x":-1.7,"y":-10,"v":30},{"x":-1.7,"y":-10.1,"v":330},{"x":-1.6,"y":-10.1,"v":330},{"x":-1.5,"y":-10.1,"v":330},{"x":-1.4,"y":-10.1,"v":330},{"x":-1.3,"y":-10.1,"v":30},{"x":-1.3,"y":-10.2,"v":270},{"x":-1.2,"y":-10.2,"v":90},
{"x":2.6,"y":-9.8,"v":210},{"x":2.7,"y":-9.8,"v":270},{"x":2.8,"y":-9.8,"v":270},{"x":2.9,"y":-9.8,"v":270},{"x":3,"y":-9.8,"v":270},{"x":3.1,"y":-9.8,"v":210},{"x":2.1,"y":-9.9,"v":30},{"x":2.2,"y":-9.9,"v":330},{"x":2.3,"y":-9.9,"v":330},{"x":2.4,"y":-9.9,"v":330},{"x":2.5,"y":-9.9,"v":330},{"x":2.6,"y":-9.9,"v":270},{"x":1.6,"y":-10,"v":150},{"x":1.7,"y":-10,"v":330},{"x":1.8,"y":-10,"v":330},{"x":1.9,"y":-10,"v":330},{"x":2,"y":-10,"v":330},{"x":2.1,"y":-10,"v":150},{"x":1.1,"y":-10.1,"v":90},{"x":1.2,"y":-10.1,"v":270},{"x":1.3,"y":-10.1,"v":270},{"x":1.4,"y":-10.1,"v":270},{"x":1.5,"y":-10.1,"v":270},{"x":1.6,"y":-10.1,"v":270},
{"x":5,"y":-9.6,"v":270},{"x":5.1,"y":-9.6,"v":270},{"x":4.7,"y":-9.7,"v":90},{"x":4.8,"y":-9.7,"v":270},{"x":4.9,"y":-9.7,"v":270},{"x":5,"y":-9.7,"v":90},{"x":4.5,"y":-9.8,"v":150},{"x":4.6,"y":-9.8,"v":270},{"x":4.7,"y":-9.8,"v":270},{"x":4.3,"y":-9.9,"v":270},{"x":4.4,"y":-9.9,"v":270},{"x":4.5,"y":-9.9,"v":150},{"x":4,"y":-10,"v":90},{"x":4.1,"y":-10,"v":210},{"x":4.2,"y":-10,"v":210},{"x":4.3,"y":-10,"v":30},{"x":3.8,"y":-10.1,"v":270},{"x":3.9,"y":-10.1,"v":390},{"x":4,"y":-10.1,"v":150},{"x":3.5,"y":-10.2,"v":90},{"x":3.6,"y":-10.2,"v":330},{"x":3.7,"y":-10.2,"v":330},{"x":3.8,"y":-10.2,"v":150},{"x":3.3,"y":-10.3,"v":150},{"x":3.4,"y":-10.3,"v":270},{"x":3.5,"y":-10.3,"v":210},{"x":3.3,"y":-10.4,"v":30},
{"x":-9.6,"y":2.5,"v":510},{"x":-9.7,"y":2.4,"v":270},{"x":-9.6,"y":2.4,"v":210},{"x":-9.7,"y":2.3,"v":570},{"x":-9.7,"y":2.2,"v":630},{"x":-9.7,"y":2.1,"v":510},{"x":-9.7,"y":2,"v":510},{"x":-9.8,"y":1.9,"v":270},{"x":-9.7,"y":1.9,"v":270},{"x":-9.8,"y":1.8,"v":630},{"x":-9.8,"y":1.7,"v":510},{"x":-9.8,"y":1.6,"v":570},{"x":-9.8,"y":1.5,"v":510},{"x":-9.9,"y":1.4,"v":270},{"x":-9.8,"y":1.4,"v":270},{"x":-9.9,"y":1.3,"v":510},{"x":-9.9,"y":1.2,"v":510},{"x":-9.9,"y":1.1,"v":510},{"x":-9.9,"y":1,"v":450},{"x":-10,"y":0.9,"v":150},{"x":-9.9,"y":0.9,"v":270},{"x":-10,"y":0.8,"v":510},{"x":-10,"y":0.7,"v":570},{"x":-10,"y":0.6,"v":450},
{"x":-9.5,"y":4.5,"v":510},{"x":-9.6,"y":4.4,"v":30},{"x":-9.5,"y":4.4,"v":510},{"x":-9.6,"y":4.3,"v":510},{"x":-9.6,"y":4.2,"v":510},{"x":-9.7,"y":4.1,"v":270},{"x":-9.6,"y":4.1,"v":210},{"x":-9.7,"y":4,"v":450},{"x":-9.8,"y":3.9,"v":90},{"x":-9.7,"y":3.9,"v":450},{"x":-9.8,"y":3.8,"v":510},{"x":-9.8,"y":3.7,"v":510},{"x":-9.9,"y":3.6,"v":390},{"x":-9.8,"y":3.6,"v":150},{"x":-9.9,"y":3.5,"v":450},{"x":-10,"y":3.4,"v":150},{"x":-9.9,"y":3.4,"v":390},{"x":-10,"y":3.3,"v":510},{"x":-10,"y":3.2,"v":510},{"x":-10.1,"y":3.1,"v":510},{"x":-10,"y":3.1,"v":90},{"x":-10.1,"y":3,"v":510},{"x":-10.2,"y":2.9,"v":210},{"x":-10.1,"y":2.9,"v":330},{"x":-10.2,"y":2.8,"v":510},{"x":-10.2,"y":2.7,"v":270},
{"x":-7.9,"y":5.9,"v":150},{"x":-7.8,"y":5.9,"v":330},{"x":-7.9,"y":5.8,"v":510},{"x":-8,"y":5.7,"v":390},{"x":-7.9,"y":5.7,"v":150},{"x":-8.1,"y":5.6,"v":150},{"x":-8,"y":5.6,"v":510},{"x":-8.1,"y":5.5,"v":630},{"x":-8.2,"y":5.4,"v":450},{"x":-8.1,"y":5.4,"v":150},{"x":-8.3,"y":5.3,"v":150},{"x":-8.2,"y":5.3,"v":510},{"x":-8.3,"y":5.2,"v":630},{"x":-8.4,"y":5.1,"v":510},{"x":-8.3,"y":5.1,"v":150},{"x":-8.5,"y":5,"v":90},{"x":-8.4,"y":5,"v":450},{"x":-8.5,"y":4.9,"v":630},{"x":-8.6,"y":4.8,"v":450},{"x":-8.5,"y":4.8,"v":150},{"x":-8.7,"y":4.7,"v":90},{"x":-8.6,"y":4.7,"v":510},{"x":-8.7,"y":4.6,"v":630},{"x":-8.8,"y":4.5,"v":450},{"x":-8.7,"y":4.5,"v":90},{"x":-8.9,"y":4.4,"v":90},{"x":-8.8,"y":4.4,"v":510},{"x":-8.9,"y":4.3,"v":690},
{"x":-8.3,"y":6.3,"v":330},{"x":-8.3,"y":6.4,"v":90},{"x":-8.2,"y":6.4,"v":630},{"x":-8.2,"y":6.5,"v":90},{"x":-8.1,"y":6.5,"v":510},{"x":-8.1,"y":6.6,"v":90},{"x":-8,"y":6.6,"v":510},{"x":-8,"y":6.7,"v":150},{"x":-7.9,"y":6.7,"v":570},{"x":-7.9,"y":6.8,"v":150},{"x":-7.8,"y":6.8,"v":570},{"x":-7.8,"y":6.9,"v":150},{"x":-7.7,"y":6.9,"v":570},{"x":-7.7,"y":7,"v":150},{"x":-7.6,"y":7,"v":570},{"x":-7.6,"y":7.1,"v":90},{"x":-7.5,"y":7.1,"v":570},{"x":-7.5,"y":7.2,"v":90},{"x":-7.4,"y":7.2,"v":570},{"x":-7.4,"y":7.3,"v":90},{"x":-7.3,"y":7.3,"v":570},{"x":-7.3,"y":7.4,"v":90},{"x":-7.2,"y":7.4,"v":570},{"x":-7.2,"y":7.5,"v":90},{"x":-7.1,"y":7.5,"v":570},{"x":-7.1,"y":7.6,"v":90},{"x":-7,"y":7.6,"v":570},{"x":-7,"y":7.7,"v":150},{"x":-6.9,"y":7.7,"v":270},
{"x":-6.5,"y":7.2,"v":90},{"x":-6.5,"y":7.3,"v":270},{"x":-6.4,"y":7.3,"v":510},{"x":-6.4,"y":7.4,"v":30},{"x":-6.3,"y":7.4,"v":570},{"x":-6.2,"y":7.4,"v":210},{"x":-6.2,"y":7.5,"v":450},{"x":-6.1,"y":7.5,"v":570},{"x":-6.1,"y":7.6,"v":30},{"x":-6,"y":7.6,"v":270},{"x":-5.9,"y":7.6,"v":270},{"x":-5.9,"y":7.7,"v":390},{"x":-5.8,"y":7.7,"v":510},{"x":-5.8,"y":7.8,"v":90},{"x":-5.7,"y":7.8,"v":570},{"x":-5.6,"y":7.8,"v":150},{"x":-5.6,"y":7.9,"v":330},{"x":-5.5,"y":7.9,"v":510},{"x":-5.5,"y":8,"v":90},{"x":-5.4,"y":8,"v":570},{"x":-5.3,"y":8,"v":270},{"x":-5.3,"y":8.1,"v":330},{"x":-5.2,"y":8.1,"v":450},{"x":-5.2,"y":8.2,"v":90},{"x":-5.1,"y":8.2,"v":570},{"x":-5,"y":8.2,"v":90},{"x":-5,"y":8.3,"v":270},{"x":-4.9,"y":8.3,"v":450},{"x":-4.9,"y":8.4,"v":90},
{"x":-5,"y":6,"v":750},{"x":-5,"y":6.1,"v":150},{"x":-4.9,"y":6.1,"v":990},{"x":-4.8,"y":6.1,"v":390},{"x":-4.8,"y":6.2,"v":510},{"x":-4.7,"y":6.2,"v":810},{"x":-4.6,"y":6.2,"v":150},{"x":-4.6,"y":6.3,"v":630},{"x":-4.5,"y":6.3,"v":750},{"x":-4.5,"y":6.4,"v":90},{"x":-4.4,"y":6.4,"v":870},{"x":-4.3,"y":6.4,"v":390},{"x":-4.3,"y":6.5,"v":390},{"x":-4.2,"y":6.5,"v":870},{"x":-4.1,"y":6.5,"v":270},{"x":-4.1,"y":6.6,"v":570},{"x":-4,"y":6.6,"v":810},{"x":-4,"y":6.7,"v":870},{"x":-3.9,"y":6.7,"v":570},{"x":-3.9,"y":6.8,"v":210},{"x":-3.8,"y":6.8,"v":750},{"x":-3.7,"y":6.8,"v":390},{"x":-3.7,"y":6.9,"v":510},{"x":-3.6,"y":6.9,"v":750},{"x":-3.5,"y":6.9,"v":90},{"x":-3.5,"y":7,"v":690},{"x":-3.4,"y":7,"v":270},
{"x":-6.1,"y":4.1,"v":810},{"x":-6.1,"y":4.2,"v":270},{"x":-6,"y":4.2,"v":930},{"x":-6,"y":4.3,"v":390},{"x":-5.9,"y":4.3,"v":990},{"x":-5.9,"y":4.4,"v":390},{"x":-5.8,"y":4.4,"v":930},{"x":-5.8,"y":4.5,"v":390},{"x":-5.7,"y":4.5,"v":930},{"x":-5.7,"y":4.6,"v":390},{"x":-5.6,"y":4.6,"v":870},{"x":-5.6,"y":4.7,"v":390},{"x":-5.5,"y":4.7,"v":810},{"x":-5.5,"y":4.8,"v":450},{"x":-5.4,"y":4.8,"v":930},{"x":-5.4,"y":4.9,"v":510},{"x":-5.3,"y":4.9,"v":810},{"x":-5.3,"y":5,"v":570},{"x":-5.2,"y":5,"v":750},{"x":-5.2,"y":5.1,"v":570},{"x":-5.1,"y":5.1,"v":750},{"x":-5.1,"y":5.2,"v":690},{"x":-5,"y":5.2,"v":690},{"x":-5,"y":5.3,"v":690},{"x":-4.9,"y":5.3,"v":630},{"x":-4.9,"y":5.4,"v":630},{"x":-4.8,"y":5.4,"v":630},{"x":-4.8,"y":5.5,"v":690},{"x":-4.7,"y":5.5,"v":390},
{"x":-6.6,"y":4.5,"v":390},{"x":-6.7,"y":4.4,"v":90},{"x":-6.6,"y":4.4,"v":810},{"x":-6.7,"y":4.3,"v":990},{"x":-6.8,"y":4.2,"v":390},{"x":-6.7,"y":4.2,"v":690},{"x":-6.8,"y":4.1,"v":1050},{"x":-6.9,"y":4,"v":690},{"x":-6.8,"y":4,"v":330},{"x":-6.9,"y":3.9,"v":930},{"x":-7,"y":3.8,"v":930},{"x":-6.9,"y":3.8,"v":150},{"x":-7.1,"y":3.7,"v":150},{"x":-7,"y":3.7,"v":810},{"x":-7.1,"y":3.6,"v":1050},{"x":-7.2,"y":3.5,"v":390},{"x":-7.1,"y":3.5,"v":510},{"x":-7.2,"y":3.4,"v":990},{"x":-7.3,"y":3.3,"v":690},{"x":-7.2,"y":3.3,"v":390},{"x":-7.3,"y":3.2,"v":1050},{"x":-7.4,"y":3.1,"v":930},{"x":-7.3,"y":3.1,"v":90},{"x":-7.5,"y":3,"v":150},{"x":-7.4,"y":3,"v":810},{"x":-7.5,"y":2.9,"v":1050},{"x":-7.6,"y":2.8,"v":570},{"x":-7.5,"y":2.8,"v":570},{"x":-7.6,"y":2.7,"v":150},
{"x":-7,"y":2.5,"v":1050},{"x":-7.1,"y":2.4,"v":630},{"x":-7,"y":2.4,"v":570},{"x":-7.1,"y":2.3,"v":1050},{"x":-7.1,"y":2.2,"v":1170},{"x":-7.1,"y":2.1,"v":1050},{"x":-7.2,"y":2,"v":930},{"x":-7.1,"y":2,"v":270},{"x":-7.2,"y":1.9,"v":1170},{"x":-7.2,"y":1.8,"v":1170},{"x":-7.3,"y":1.7,"v":30},{"x":-7.2,"y":1.7,"v":1050},{"x":-7.3,"y":1.6,"v":1170},{"x":-7.3,"y":1.5,"v":1170},{"x":-7.3,"y":1.4,"v":1170},{"x":-7.4,"y":1.3,"v":390},{"x":-7.3,"y":1.3,"v":750},{"x":-7.4,"y":1.2,"v":1110},{"x":-7.4,"y":1.1,"v":1170},{"x":-7.4,"y":1,"v":1050},{"x":-7.5,"y":0.9,"v":690},{"x":-7.4,"y":0.9,"v":450},{"x":-7.5,"y":0.8,"v":1110},{"x":-7.5,"y":0.7,"v":1110},{"x":-7.5,"y":0.6,"v":690}
]},"mark":{"type":"rect","width":6,"height":5.8,"xOffset":2.52,"yOffset":-2.443},"encoding":{"x":{"field":"x","type":"quantitative"},"y":{"field":"y","type":"quantitative","scale":{"domain":[-12,12],"nice":false,"zero":false},"axis":{"orient":"left","values":[-10,-5,0,5,10],"format":"d","title":null,"grid":false,"domain":false,"tickSize":-36,"tickWidth":2,"tickColor":"#000","labelFontSize":46,"labelPadding":44,"labelColor":"#000","labelFont":"Liberation Sans","labelFlush":false,"labelOverlap":false}},"color":{"field":"v","type":"quantitative","legend":null,"scale":{"type":"quantize","domain":[0,1200],"range":["#2a3ea3","#1750cc","#1065dd","#1470d0","#1580d2","#0d92c9","#0b9dc7","#0fa8c0","#1fadb0","#2eb49e","#50b68b","#76bb7c","#98bc70","#b2bc66","#ceb85a","#e6b84d","#f5c53a","#f8d02c","#fbe01d","#f9f50f"]}}}},
{"data":{"values":[{"g":-10},{"g":-5},{"g":0},{"g":5},{"g":10}]},"mark":{"type":"rule","color":"#000","strokeWidth":2.4,"strokeDash":[2.4,5.6]},"encoding":{"x":{"field":"g","type":"quantitative"}}},
{"data":{"values":[{"g":-10},{"g":-5},{"g":0},{"g":5},{"g":10}]},"mark":{"type":"rule","color":"#000","strokeWidth":2.4,"strokeDash":[2.4,5.6]},"encoding":{"y":{"field":"g","type":"quantitative"}}},
{"data":{"values":[{"t":-11},{"t":-9},{"t":-8},{"t":-7},{"t":-6},{"t":-4},{"t":-3},{"t":-2},{"t":-1},{"t":1},{"t":2},{"t":3},{"t":4},{"t":6},{"t":7},{"t":8},{"t":9},{"t":11}]},"mark":{"type":"rule","color":"#000","strokeWidth":2},"encoding":{"x":{"field":"t","type":"quantitative"},"y":{"datum":-12},"y2":{"datum":-11.64}}},
{"data":{"values":[{"t":-11},{"t":-9},{"t":-8},{"t":-7},{"t":-6},{"t":-4},{"t":-3},{"t":-2},{"t":-1},{"t":1},{"t":2},{"t":3},{"t":4},{"t":6},{"t":7},{"t":8},{"t":9},{"t":11}]},"mark":{"type":"rule","color":"#000","strokeWidth":2},"encoding":{"y":{"field":"t","type":"quantitative"},"x":{"datum":-12},"x2":{"datum":-11.643}}},
{"data":{"values":[{}]},"mark":{"type":"rect","fill":"#fff","stroke":"#000","strokeWidth":1.7},"encoding":{"x":{"datum":8.397},"x2":{"datum":14.389},"y":{"datum":13.054},"y2":{"datum":5.85}}},
{"data":{"values":[{}]},"mark":{"type":"rule","color":"#000","strokeWidth":1.7},"encoding":{"x":{"datum":8.397},"x2":{"datum":14.389},"y":{"datum":11.847}}},
{"data":{"values":[{}]},"mark":{"type":"text","align":"center","baseline":"alphabetic","fontSize":40,"font":"Liberation Sans"},"encoding":{"x":{"datum":11.353},"y":{"datum":12.24},"text":{"value":"hist_cluster_xy"}}},
{"data":{"values":[{}]},"mark":{"type":"text","align":"left","baseline":"alphabetic","fontSize":32,"font":"Liberation Sans"},"encoding":{"x":{"datum":8.654},"y":{"datum":10.99},"text":{"value":"Entries"}}},
{"data":{"values":[{}]},"mark":{"type":"text","align":"left","baseline":"alphabetic","fontSize":32,"font":"Liberation Sans"},"encoding":{"x":{"datum":8.654},"y":{"datum":9.786},"text":{"value":"Mean x"}}},
{"data":{"values":[{}]},"mark":{"type":"text","align":"left","baseline":"alphabetic","fontSize":32,"font":"Liberation Sans"},"encoding":{"x":{"datum":8.654},"y":{"datum":8.66},"text":{"value":"Mean y"}}},
{"data":{"values":[{}]},"mark":{"type":"text","align":"left","baseline":"alphabetic","fontSize":32,"font":"Liberation Sans"},"encoding":{"x":{"datum":8.654},"y":{"datum":7.405},"text":{"value":"Std Dev x"}}},
{"data":{"values":[{}]},"mark":{"type":"text","align":"left","baseline":"alphabetic","fontSize":32,"font":"Liberation Sans"},"encoding":{"x":{"datum":8.654},"y":{"datum":6.26},"text":{"value":"Std Dev y"}}},
{"data":{"values":[{}]},"mark":{"type":"text","align":"right","baseline":"alphabetic","fontSize":32,"font":"Liberation Sans"},"encoding":{"x":{"datum":14.11},"y":{"datum":10.99},"text":{"value":"514324"}}},
{"data":{"values":[{}]},"mark":{"type":"text","align":"right","baseline":"alphabetic","fontSize":32,"font":"Liberation Sans"},"encoding":{"x":{"datum":14.11},"y":{"datum":9.786},"text":{"value":"−1.603"}}},
{"data":{"values":[{}]},"mark":{"type":"text","align":"right","baseline":"alphabetic","fontSize":32,"font":"Liberation Sans"},"encoding":{"x":{"datum":14.11},"y":{"datum":8.6},"text":{"value":"0.2886"}}},
{"data":{"values":[{}]},"mark":{"type":"text","align":"right","baseline":"alphabetic","fontSize":32,"font":"Liberation Sans"},"encoding":{"x":{"datum":14.11},"y":{"datum":7.405},"text":{"value":"6.374"}}},
{"data":{"values":[{}]},"mark":{"type":"text","align":"right","baseline":"alphabetic","fontSize":32,"font":"Liberation Sans"},"encoding":{"x":{"datum":14.11},"y":{"datum":6.197},"text":{"value":"6.066"}}},
{"data":{"values":[{}]},"mark":{"type":"text","align":"left","baseline":"alphabetic","fontSize":78,"font":"Liberation Sans"},"encoding":{"x":{"datum":-4.937},"y":{"datum":13.84},"text":{"value":"x"}}},
{"data":{"values":[{}]},"mark":{"type":"text","align":"left","baseline":"alphabetic","fontSize":51.5,"font":"Liberation Sans"},"encoding":{"x":{"datum":-4.19},"y":{"datum":13.357},"text":{"value":"cluster"}}},
{"data":{"values":[{}]},"mark":{"type":"text","align":"left","baseline":"alphabetic","fontSize":78,"font":"Liberation Sans"},"encoding":{"x":{"datum":-0.77},"y":{"datum":13.84},"text":{"value":"vs"}}},
{"data":{"values":[{}]},"mark":{"type":"text","align":"left","baseline":"alphabetic","fontSize":78,"font":"Liberation Sans"},"encoding":{"x":{"datum":1.194},"y":{"datum":13.84},"text":{"value":"y"}}},
{"data":{"values":[{}]},"mark":{"type":"text","align":"left","baseline":"alphabetic","fontSize":51.5,"font":"Liberation Sans"},"encoding":{"x":{"datum":1.948},"y":{"datum":13.0},"text":{"value":"cluster"}}},
{"data":{"values":[{}]},"mark":{"type":"text","align":"left","baseline":"alphabetic","fontSize":46,"font":"Liberation Sans"},"encoding":{"x":{"datum":7.563},"y":{"datum":-13.94},"text":{"value":"x"}}},
{"data":{"values":[{}]},"mark":{"type":"text","align":"left","baseline":"alphabetic","fontSize":32,"font":"Liberation Sans"},"encoding":{"x":{"datum":8.06},"y":{"datum":-14.18},"text":{"value":"cluster"}}},
{"data":{"values":[{}]},"mark":{"type":"text","align":"left","baseline":"alphabetic","fontSize":46,"font":"Liberation Sans"},"encoding":{"x":{"datum":10.214},"y":{"datum":-13.94},"text":{"value":"(cm)"}}},
{"data":{"values":[{}]},"mark":{"type":"text","angle":270,"align":"left","baseline":"alphabetic","fontSize":90,"fontWeight":"bold","font":"Liberation Sans"},"encoding":{"x":{"datum":-14.56},"y":{"datum":-4.854},"text":{"value":"y"}}},
{"data":{"values":[{}]},"mark":{"type":"text","angle":270,"align":"left","baseline":"alphabetic","fontSize":63,"fontWeight":"bold","font":"Liberation Sans"},"encoding":{"x":{"datum":-14.44},"y":{"datum":-3.892},"text":{"value":"cluster"}}},
{"data":{"values":[{}]},"mark":{"type":"text","angle":270,"align":"left","baseline":"alphabetic","fontSize":93,"fontWeight":"bold","font":"Liberation Sans"},"encoding":{"x":{"datum":-14.58},"y":{"datum":0.79},"text":{"value":"(cm)"}}},
{"data":{"values":[{}]},"mark":{"type":"text","angle":270,"align":"left","baseline":"alphabetic","fontSize":46,"font":"Liberation Sans"},"encoding":{"x":{"datum":-14.46},"y":{"datum":7.487},"text":{"value":"y"}}},
{"data":{"values":[{}]},"mark":{"type":"text","angle":270,"align":"left","baseline":"alphabetic","fontSize":32,"font":"Liberation Sans"},"encoding":{"x":{"datum":-13.964},"y":{"datum":7.937},"text":{"value":"cluster"}}},
{"data":{"values":[{}]},"mark":{"type":"text","angle":270,"align":"left","baseline":"alphabetic","fontSize":46,"font":"Liberation Sans"},"encoding":{"x":{"datum":-14.44},"y":{"datum":10.19},"text":{"value":"(cm)"}}},
{"data":{"values":[{}]},"mark":{"type":"text","align":"left","baseline":"alphabetic","fontSize":32,"fontWeight":"bold","font":"Liberation Sans"},"encoding":{"x":{"datum":14.825},"y":{"datum":10.885},"text":{"value":"."}}},
{"data":{"values":[{}]},"mark":{"type":"text","align":"left","baseline":"alphabetic","fontSize":32,"fontWeight":"bold","font":"Liberation Sans"},"encoding":{"x":{"datum":14.885},"y":{"datum":10.29},"text":{"value":"."}}},
{"data":{"values":[{}]},"mark":{"type":"text","align":"left","baseline":"alphabetic","fontSize":32,"fontWeight":"bold","font":"Liberation Sans"},"encoding":{"x":{"datum":14.83},"y":{"datum":9.124},"text":{"value":"L"}}},
{"data":{"values":[{}]},"mark":{"type":"rect","fill":"#fff"},"encoding":{"x":{"datum":15.004},"x2":{"datum":15.4},"y":{"datum":-14.3},"y2":{"datum":15.2}}}
]}
]}
